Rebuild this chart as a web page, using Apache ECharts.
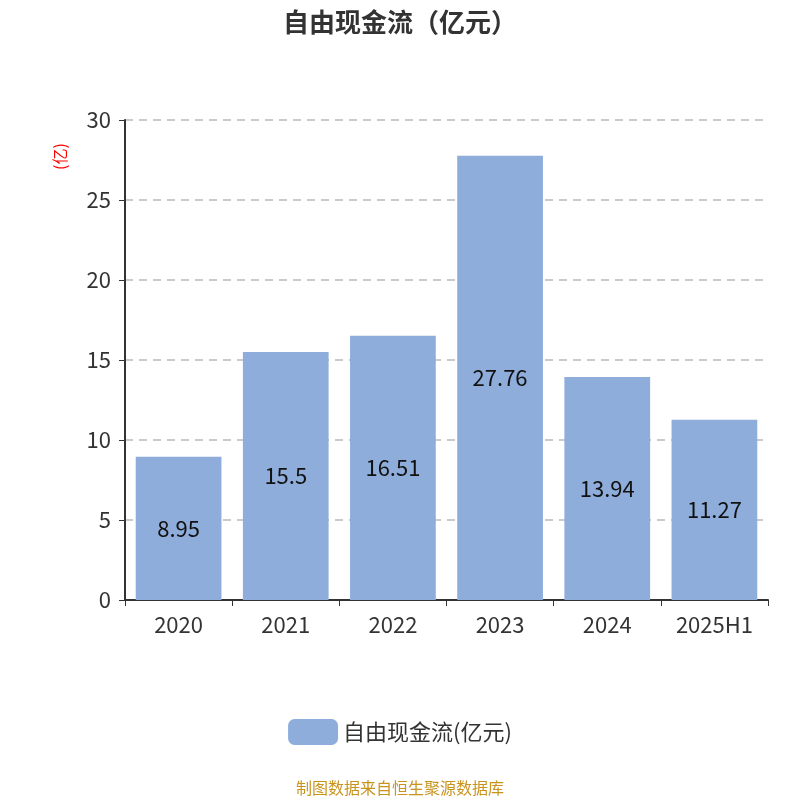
<!DOCTYPE html>
<html><head><meta charset="utf-8">
<script src="https://cdn.jsdelivr.net/npm/echarts@6/dist/echarts.min.js"></script>
<style>html,body{margin:0;padding:0;}#c{width:800px;height:800px;}</style>
</head><body><div id="c"></div>
<script>
const categories = ['2020','2021','2022','2023','2024','2025H1'];
const values = [8.95, 15.5, 16.51, 27.76, 13.94, 11.27];
const yTicks = [0,5,10,15,20,25,30];
const chart = echarts.init(document.getElementById('c'));
const ff = '"Noto Sans CJK SC","Noto Sans",sans-serif';
chart.setOption({
  animation:false,
  title:{text:'自由现金流（亿元）',left:'center',top:4,textStyle:{fontSize:26,fontWeight:'bold',color:'#333',fontFamily:ff}},
  grid:{left:125,right:32,top:120,bottom:200},
  legend:{bottom:50,itemWidth:50,itemHeight:26,itemGap:10,textStyle:{fontSize:22,color:'#333',fontFamily:ff},data:['自由现金流(亿元)']},
  graphic:[
    {type:'text',left:'center',top:780,style:{text:'制图数据来自恒生聚源数据库',fill:'#c8941e',fontSize:16,fontFamily:ff}},
    {type:'text',x:52,y:170,rotation:Math.PI/2,style:{text:'(亿)',fill:'#ff0000',fontSize:16,fontFamily:ff}}
  ],
  xAxis:{type:'category',data:categories,axisTick:{show:true,alignWithLabel:false,length:6},
    axisLine:{lineStyle:{color:'#333',width:2}},axisLabel:{fontSize:22,color:'#333',margin:14,fontFamily:ff}},
  yAxis:{type:'value',min:0,max:30,interval:5,
    axisLine:{show:true,lineStyle:{color:'#333',width:2}},axisTick:{show:true,length:6},
    axisLabel:{fontSize:22,color:'#333',margin:14,fontFamily:ff},
    splitLine:{lineStyle:{type:[8,6],color:'#bbb',width:1.5}}},
  series:[{name:'自由现金流(亿元)',type:'bar',data:values,barCategoryGap:'20%',
    itemStyle:{color:'#8eaddb'},
    label:{show:true,position:'inside',fontSize:22,color:'#111',fontFamily:ff}}]
});
</script></body></html>
